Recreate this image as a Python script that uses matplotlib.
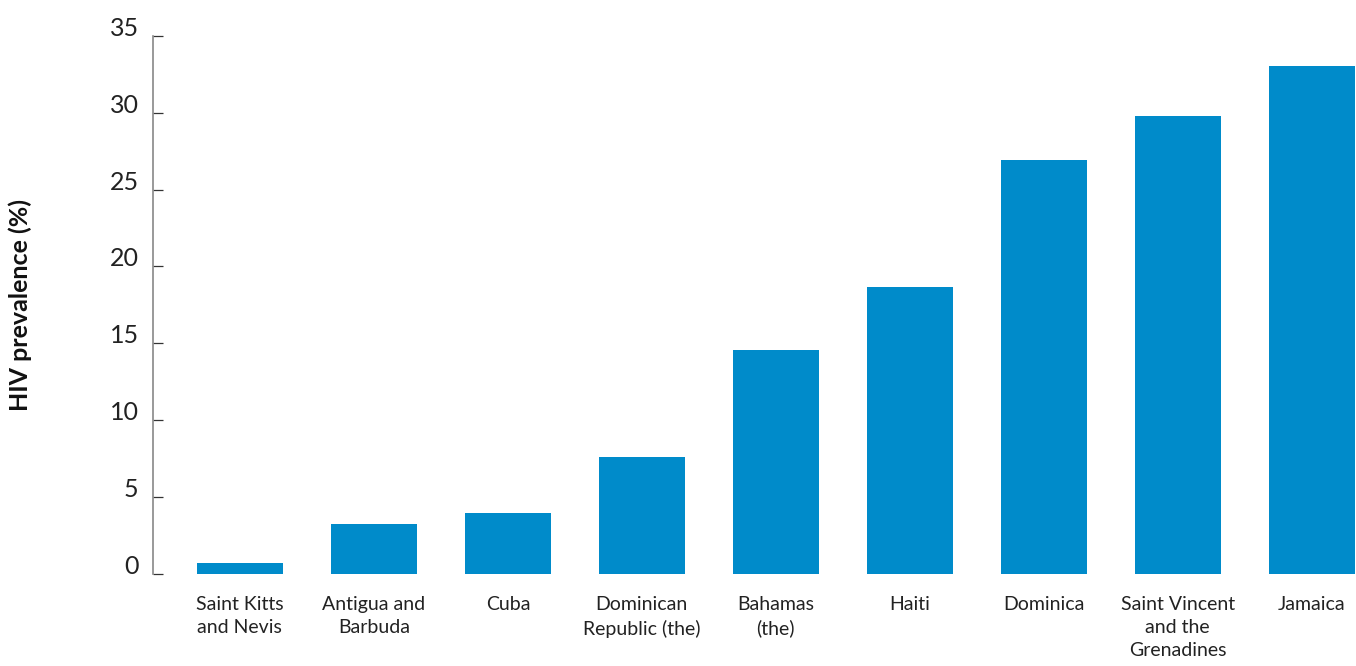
import matplotlib.pyplot as plt
import numpy as np

# данные
countries = ["Saint Kitts\nand Nevis", "Antigua and\nBarbuda", "Cuba",
             "Dominican\nRepublic (the)", "Bahamas\n(the)", "Haiti",
             "Dominica", "Saint Vincent\nand the\nGrenadines", "Jamaica"]
prevalence = [0.7, 3.25, 4.0, 7.6, 14.55, 18.65, 26.9, 29.8, 33.0]
y_ticks = [0, 5, 10, 15, 20, 25, 30, 35]

plt.rcParams['font.family'] = ['Lato', 'DejaVu Sans']

fig = plt.figure(figsize=(13.56, 6.66), dpi=100)
ax = fig.add_axes([0.1125, 0.1381, 0.8875, 0.8083])

x = np.arange(len(countries))
ax.bar(x, prevalence, width=0.64, color='#008bca')

ax.set_xlim(-0.652, 8.33)
ax.set_ylim(0, 35)

ax.set_yticks(y_ticks)
ax.set_yticklabels([str(t) for t in y_ticks], fontsize=18, color='#222222')
for lab in ax.get_yticklabels():
    lab.set_verticalalignment('baseline')
ax.tick_params(axis='y', direction='in', length=7, width=0.9, color='#333333', pad=10)

ax.set_xticks(x)
ax.set_xticklabels(countries, fontsize=14, color='#222222', linespacing=1.42)
ax.tick_params(axis='x', length=0, pad=16)

for s in ['top', 'right', 'bottom']:
    ax.spines[s].set_visible(False)
ax.spines['left'].set_color('#888888')
ax.spines['left'].set_linewidth(1.2)

ax.set_ylabel("HIV prevalence (%)", fontsize=18, fontweight='bold', color='#111111')
ax.yaxis.set_label_coords(-0.1, 0.5)

fig.savefig('out.png', dpi=100)
